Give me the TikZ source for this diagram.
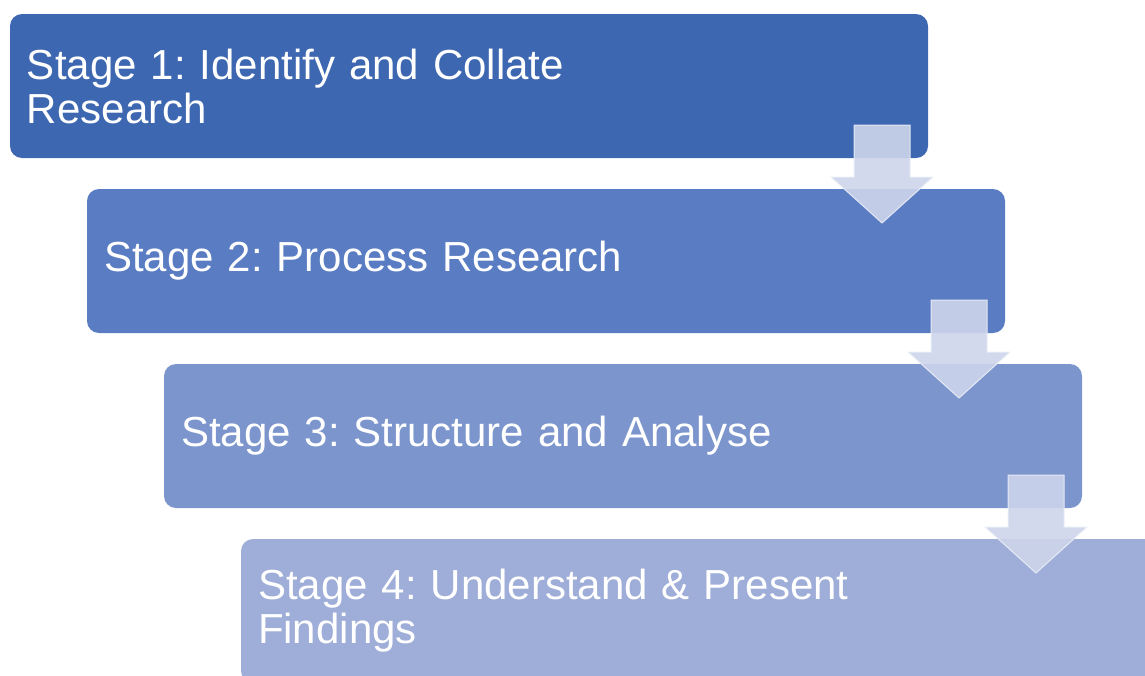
\documentclass[tikz,border=0pt]{standalone}
\usepackage{fontspec}
\setmainfont{Liberation Sans}
\usetikzlibrary{positioning,calc}

\definecolor{stageA}{HTML}{3E67B1}
\definecolor{stageB}{HTML}{5A7CC3}
\definecolor{stageC}{HTML}{7C95CD}
\definecolor{stageD}{HTML}{9FAED8}
\definecolor{arrowfill}{HTML}{CED5EB}

\tikzset{
    stagebox/.style={rectangle, rounded corners=12pt, anchor=north west, outer sep=0pt,
        minimum width=918pt, minimum height=144pt, text width=884pt, inner xsep=17pt,
        align=left, text=white, font=\fontsize{42}{44}\selectfont\frenchspacing},
    downarrow/.style={fill=arrowfill, fill opacity=0.9, draw=white!60!arrowfill,
        draw opacity=0.9, line width=1pt, line join=miter}
}

% block arrow below the lower right corner of a stage
\newcommand{\stagearrow}[1]{
    \draw [downarrow] ($(#1.south east)+(-74,-33)$) -- ($(#1.south east)+(-18,-33)$)
        -- ($(#1.south east)+(-18,19)$) -- ($(#1.south east)+(5,19)$)
        -- ($(#1.south east)+(-46,65)$) -- ($(#1.south east)+(-97,19)$)
        -- ($(#1.south east)+(-74,19)$) -- cycle;
}

\begin{document}
\begin{tikzpicture}[x=1pt, y=-1pt]
    \clip (0,0) rectangle (1145,675);

    \node [stagebox, fill=stageA] (stage1) at (10,14) {Stage 1: Identify and Collate\\Research};
    \node [stagebox, fill=stageB, below right=31pt and 77pt of stage1.south west] (stage2) {Stage 2: Process Research};
    \node [stagebox, fill=stageC, below right=31pt and 77pt of stage2.south west] (stage3) {Stage 3: Structure and Analyse};
    \node [stagebox, fill=stageD, below right=31pt and 77pt of stage3.south west] (stage4) {Stage 4: Understand \& Present\\Findings};

    \stagearrow{stage1}
    \stagearrow{stage2}
    \stagearrow{stage3}
\end{tikzpicture}
\end{document}
